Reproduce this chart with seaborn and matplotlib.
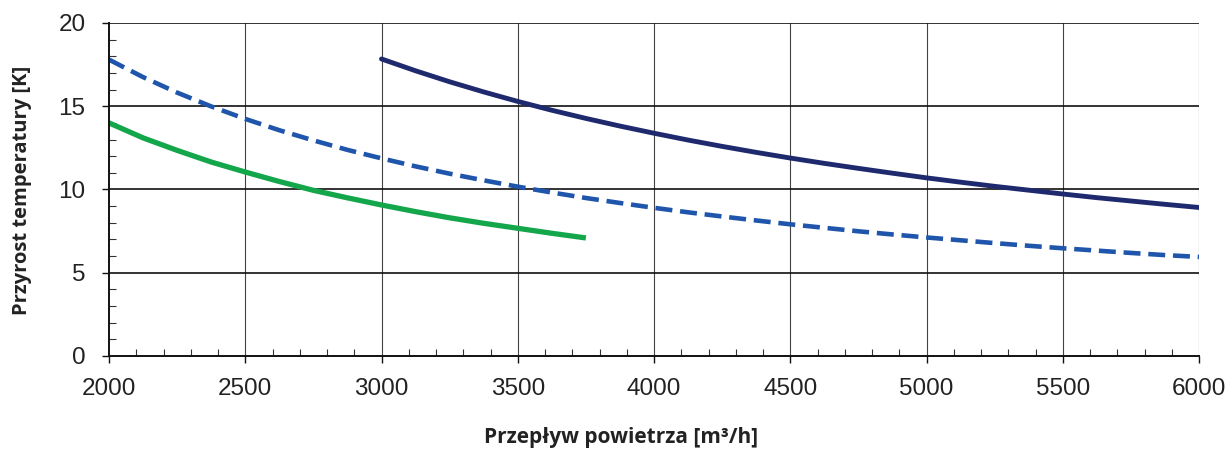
import matplotlib
matplotlib.use("Agg")
import matplotlib.pyplot as plt
from matplotlib.ticker import MultipleLocator
import seaborn as sns
import pandas as pd

# Air flow [m³/h] and temperature rise [K] for the three heater variants
flow_green = [2000, 2125, 2250, 2375, 2500, 2625, 2750, 2875, 3000,
              3125, 3250, 3375, 3500, 3625, 3750]
rise_green = [14.0, 13.1, 12.35, 11.65, 11.05, 10.48, 9.95, 9.5, 9.07,
              8.67, 8.3, 7.97, 7.67, 7.37, 7.09]

flow_dashed = [2000, 2125, 2250, 2375, 2500, 2625, 2750, 2875, 3000,
               3125, 3250, 3375, 3500, 3625, 3750, 3875, 4000,
               4125, 4250, 4375, 4500, 4625, 4750, 4875, 5000,
               5125, 5250, 5375, 5500, 5625, 5750, 5875, 6000]
rise_dashed = [17.8, 16.75, 15.82, 14.99, 14.24, 13.56, 12.95, 12.38, 11.87,
               11.39, 10.95, 10.55, 10.17, 9.82, 9.49, 9.19, 8.9,
               8.63, 8.38, 8.14, 7.91, 7.7, 7.49, 7.3, 7.12,
               6.95, 6.78, 6.62, 6.47, 6.33, 6.19, 6.06, 5.95]

flow_navy = [3000, 3125, 3250, 3375, 3500, 3625, 3750, 3875, 4000,
             4125, 4250, 4375, 4500, 4625, 4750, 4875, 5000,
             5125, 5250, 5375, 5500, 5625, 5750, 5875, 6000]
rise_navy = [17.84, 17.13, 16.47, 15.86, 15.29, 14.76, 14.27, 13.81, 13.38,
             12.97, 12.59, 12.23, 11.89, 11.57, 11.27, 10.98, 10.7,
             10.44, 10.19, 9.96, 9.73, 9.51, 9.31, 9.11, 8.92]

x_ticks = [2000, 2500, 3000, 3500, 4000, 4500, 5000, 5500, 6000]
y_ticks = [0, 5, 10, 15, 20]

sns.set_style("white")
plt.rcParams["font.family"] = ["Liberation Sans", "DejaVu Sans"]

fig = plt.figure(figsize=(12.32, 4.5), dpi=100)
ax = fig.add_axes([109 / 1232, 1 - 356 / 450, (1199 - 109) / 1232, (356 - 23) / 450])

# grid first so curves sit on top
for xv in x_ticks[1:]:
    ax.axvline(xv, color="#444444", lw=0.8, zorder=1)
for yv in y_ticks[1:]:
    ax.axhline(yv, color="#111111", lw=1.2, zorder=1)

df_g = pd.DataFrame({"x": flow_green, "y": rise_green})
df_d = pd.DataFrame({"x": flow_dashed, "y": rise_dashed})
df_n = pd.DataFrame({"x": flow_navy, "y": rise_navy})

sns.lineplot(data=df_g, x="x", y="y", ax=ax, color="#14A64A", lw=3.8,
             solid_capstyle="butt", zorder=3)
sns.lineplot(data=df_d, x="x", y="y", ax=ax, color="#1F56AB", lw=3.3,
             zorder=3)
ax.lines[-1].set_dashes([3.7, 1.7])
sns.lineplot(data=df_n, x="x", y="y", ax=ax, color="#1F2A6E", lw=3.5,
             solid_capstyle="round", zorder=3)

ax.set_xlim(2000, 6000)
ax.set_ylim(0, 20)
ax.set_xticks(x_ticks)
ax.set_yticks(y_ticks)
ax.xaxis.set_minor_locator(MultipleLocator(100))
ax.yaxis.set_minor_locator(MultipleLocator(1))
ax.tick_params(axis="both", which="major", direction="out", length=5,
               width=1.0, color="#111111", labelsize=17.5, labelcolor="#222222")
ax.tick_params(axis="x", which="major", pad=11)
ax.tick_params(axis="y", which="major", pad=12)
ax.tick_params(axis="both", which="minor", direction="in", length=5,
               width=0.8, color="#333333")
ax.xaxis.set_ticks_position("bottom")
ax.yaxis.set_ticks_position("left")

for side in ("top", "right"):
    ax.spines[side].set_visible(False)
for side in ("left", "bottom"):
    ax.spines[side].set_color("#111111")
    ax.spines[side].set_linewidth(1.4)
    ax.spines[side].set_zorder(4)

ax.set_xlabel("")
ax.set_ylabel("")
label_font = dict(family=["Open Sans", "DejaVu Sans"], fontweight="bold",
                  color="#222222")
fig.text(621 / 1232, 1 - 437 / 450, "Przepływ powietrza [m³/h]",
         ha="center", va="center", fontsize=15, **label_font)
fig.text(22 / 1232, 1 - 190 / 450, "Przyrost temperatury [K]",
         ha="center", va="center", rotation=90, fontsize=14.5, **label_font)

fig.savefig("out.png", dpi=100, facecolor="white")
